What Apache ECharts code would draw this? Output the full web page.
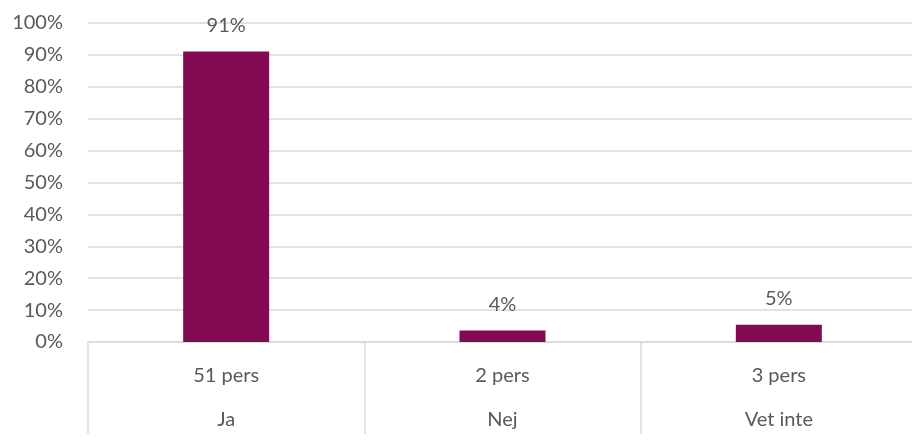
<!DOCTYPE html>
<html>
<head>
<meta charset="utf-8">
<script src="https://cdn.jsdelivr.net/npm/echarts@6/dist/echarts.min.js"></script>
<style>
  html, body { margin: 0; padding: 0; background: #fff; }
  #chart { width: 912px; height: 444px; }
</style>
</head>
<body>
<div id="chart"></div>
<script>
'use strict';

// Data
const answers = ['Ja', 'Nej', 'Vet inte'];
const counts = ['51 pers', '2 pers', '3 pers'];
const shares = [91.1, 3.6, 5.4];

const FONT = 'Lato, "Open Sans", sans-serif';
const SIZE = 20;
const TEXT = '#595959';
const LINE = '#d9d9d9';

const chart = echarts.init(document.getElementById('chart'));

// plot runs a bit past the right edge, like the original
chart.setOption({
  animation: false,
  grid: {
    left: 88,
    top: 23,
    width: 829,
    height: 319,
    containLabel: false,
    outerBoundsMode: 'none'
  },
  xAxis: [
    {
      type: 'category',
      data: counts,
      position: 'bottom',
      axisLine: { lineStyle: { color: LINE, width: 1.5 } },
      axisTick: { show: true, length: 92, interval: 0, lineStyle: { color: LINE, width: 1.5 } },
      axisLabel: { color: TEXT, fontFamily: FONT, fontSize: SIZE, margin: 24 }
    },
    {
      type: 'category',
      data: answers,
      position: 'bottom',
      offset: 44,
      axisLine: { show: false },
      axisTick: { show: false },
      axisLabel: { color: TEXT, fontFamily: FONT, fontSize: SIZE, margin: 24 }
    }
  ],
  yAxis: {
    type: 'value',
    min: 0,
    max: 100,
    interval: 10,
    axisLine: { show: false },
    axisTick: { show: false },
    splitLine: { lineStyle: { color: LINE, width: 1.5 } },
    axisLabel: {
      color: TEXT,
      fontFamily: FONT,
      fontSize: SIZE,
      margin: 25,
      formatter: (v) => v + '%'
    }
  },
  series: [
    {
      type: 'bar',
      data: shares,
      barWidth: 86,
      itemStyle: { color: '#810a53' },
      label: {
        show: true,
        position: 'top',
        distance: 16,
        color: TEXT,
        fontFamily: FONT,
        fontSize: SIZE,
        formatter: (p) => Math.round(p.value) + '%'
      }
    }
  ]
});
</script>
</body>
</html>
